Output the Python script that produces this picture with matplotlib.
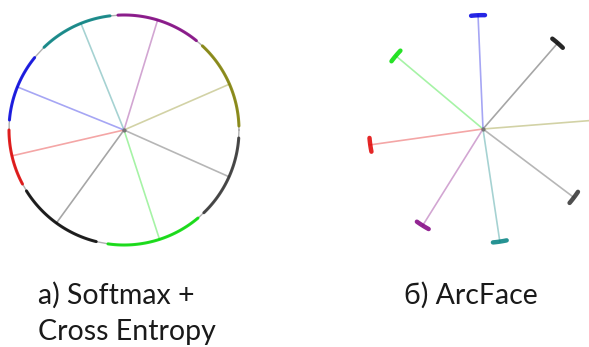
import matplotlib.pyplot as plt
import numpy as np

# class colours (spoke / cluster)
colors = ["#008080", "#800080", "#808000", "#303030", "#00dd00", "#000000", "#e00000", "#0000e0"]

# softmax: class centre directions and the arcs the samples spread over (deg)
sm_angles = [112, 73, 23.5, -24, -72, -126, -167, 158]
sm_arc_start = [95, 49, 0, -48, -100, -150, -182, 139]
sm_arc_end = [136, 95, 49, -2, -48, -102, -150, 177]

# arcface: class centre directions, samples packed tightly around them (deg)
af_angles = [-81.5, -122, 4.5, -37, 140, 49, -172, 92.5]
af_spread = 3.5
af_radius = 0.99

W, H = 589, 347
R = 115.0

fig = plt.figure(figsize=(W / 100, H / 100), dpi=100)


def make_ax(x0, x1, y0, y1, cx, cy):
    ax = fig.add_axes([x0 / W, 1 - y1 / H, (x1 - x0) / W, (y1 - y0) / H])
    ax.set_xlim((x0 - cx) / R, (x1 - cx) / R)
    ax.set_ylim((cy - y1) / R, (cy - y0) / R)
    ax.axis("off")
    return ax


def arc(ax, a0, a1, r, **kw):
    t = np.radians(np.linspace(a0, a1, 60))
    ax.plot(r * np.cos(t), r * np.sin(t), solid_capstyle="round", **kw)


# a) softmax + cross entropy
ax1 = make_ax(0, 250, 0, 262, 124, 130)
arc(ax1, 0, 360, 1.0, color="#b0b0b0", lw=1.0)
for a, s, e, c in zip(sm_angles, sm_arc_start, sm_arc_end, colors):
    t = np.radians(a)
    ax1.plot([0, np.cos(t)], [0, np.sin(t)], color=c, alpha=0.35, lw=1.2)
    arc(ax1, s + 2, e - 2, 1.0, color=c, lw=2.2, alpha=0.85)
ax1.plot(0, 0, "o", color="#777777", ms=2)

# b) arcface
ax2 = make_ax(350, 589, 0, 262, 483, 129)
for a, c in zip(af_angles, colors):
    t = np.radians(a)
    ax2.plot([0, af_radius * np.cos(t)], [0, af_radius * np.sin(t)], color=c, alpha=0.35, lw=1.2)
    arc(ax2, a - af_spread, a + af_spread, af_radius, color=c, lw=3.2, alpha=0.85)
ax2.plot(0, 0, "o", color="#777777", ms=2)

font = dict(family="Lato", fontsize=20.5, color="#1a1a1a", va="baseline")
fig.text(38 / W, 1 - 304 / H, "а) Softmax +", **font)
fig.text(38 / W, 1 - 340 / H, "Cross Entropy", **font)
fig.text(404 / W, 1 - 304 / H, "б) ArcFace", **font)

fig.savefig("out.png", dpi=100)
